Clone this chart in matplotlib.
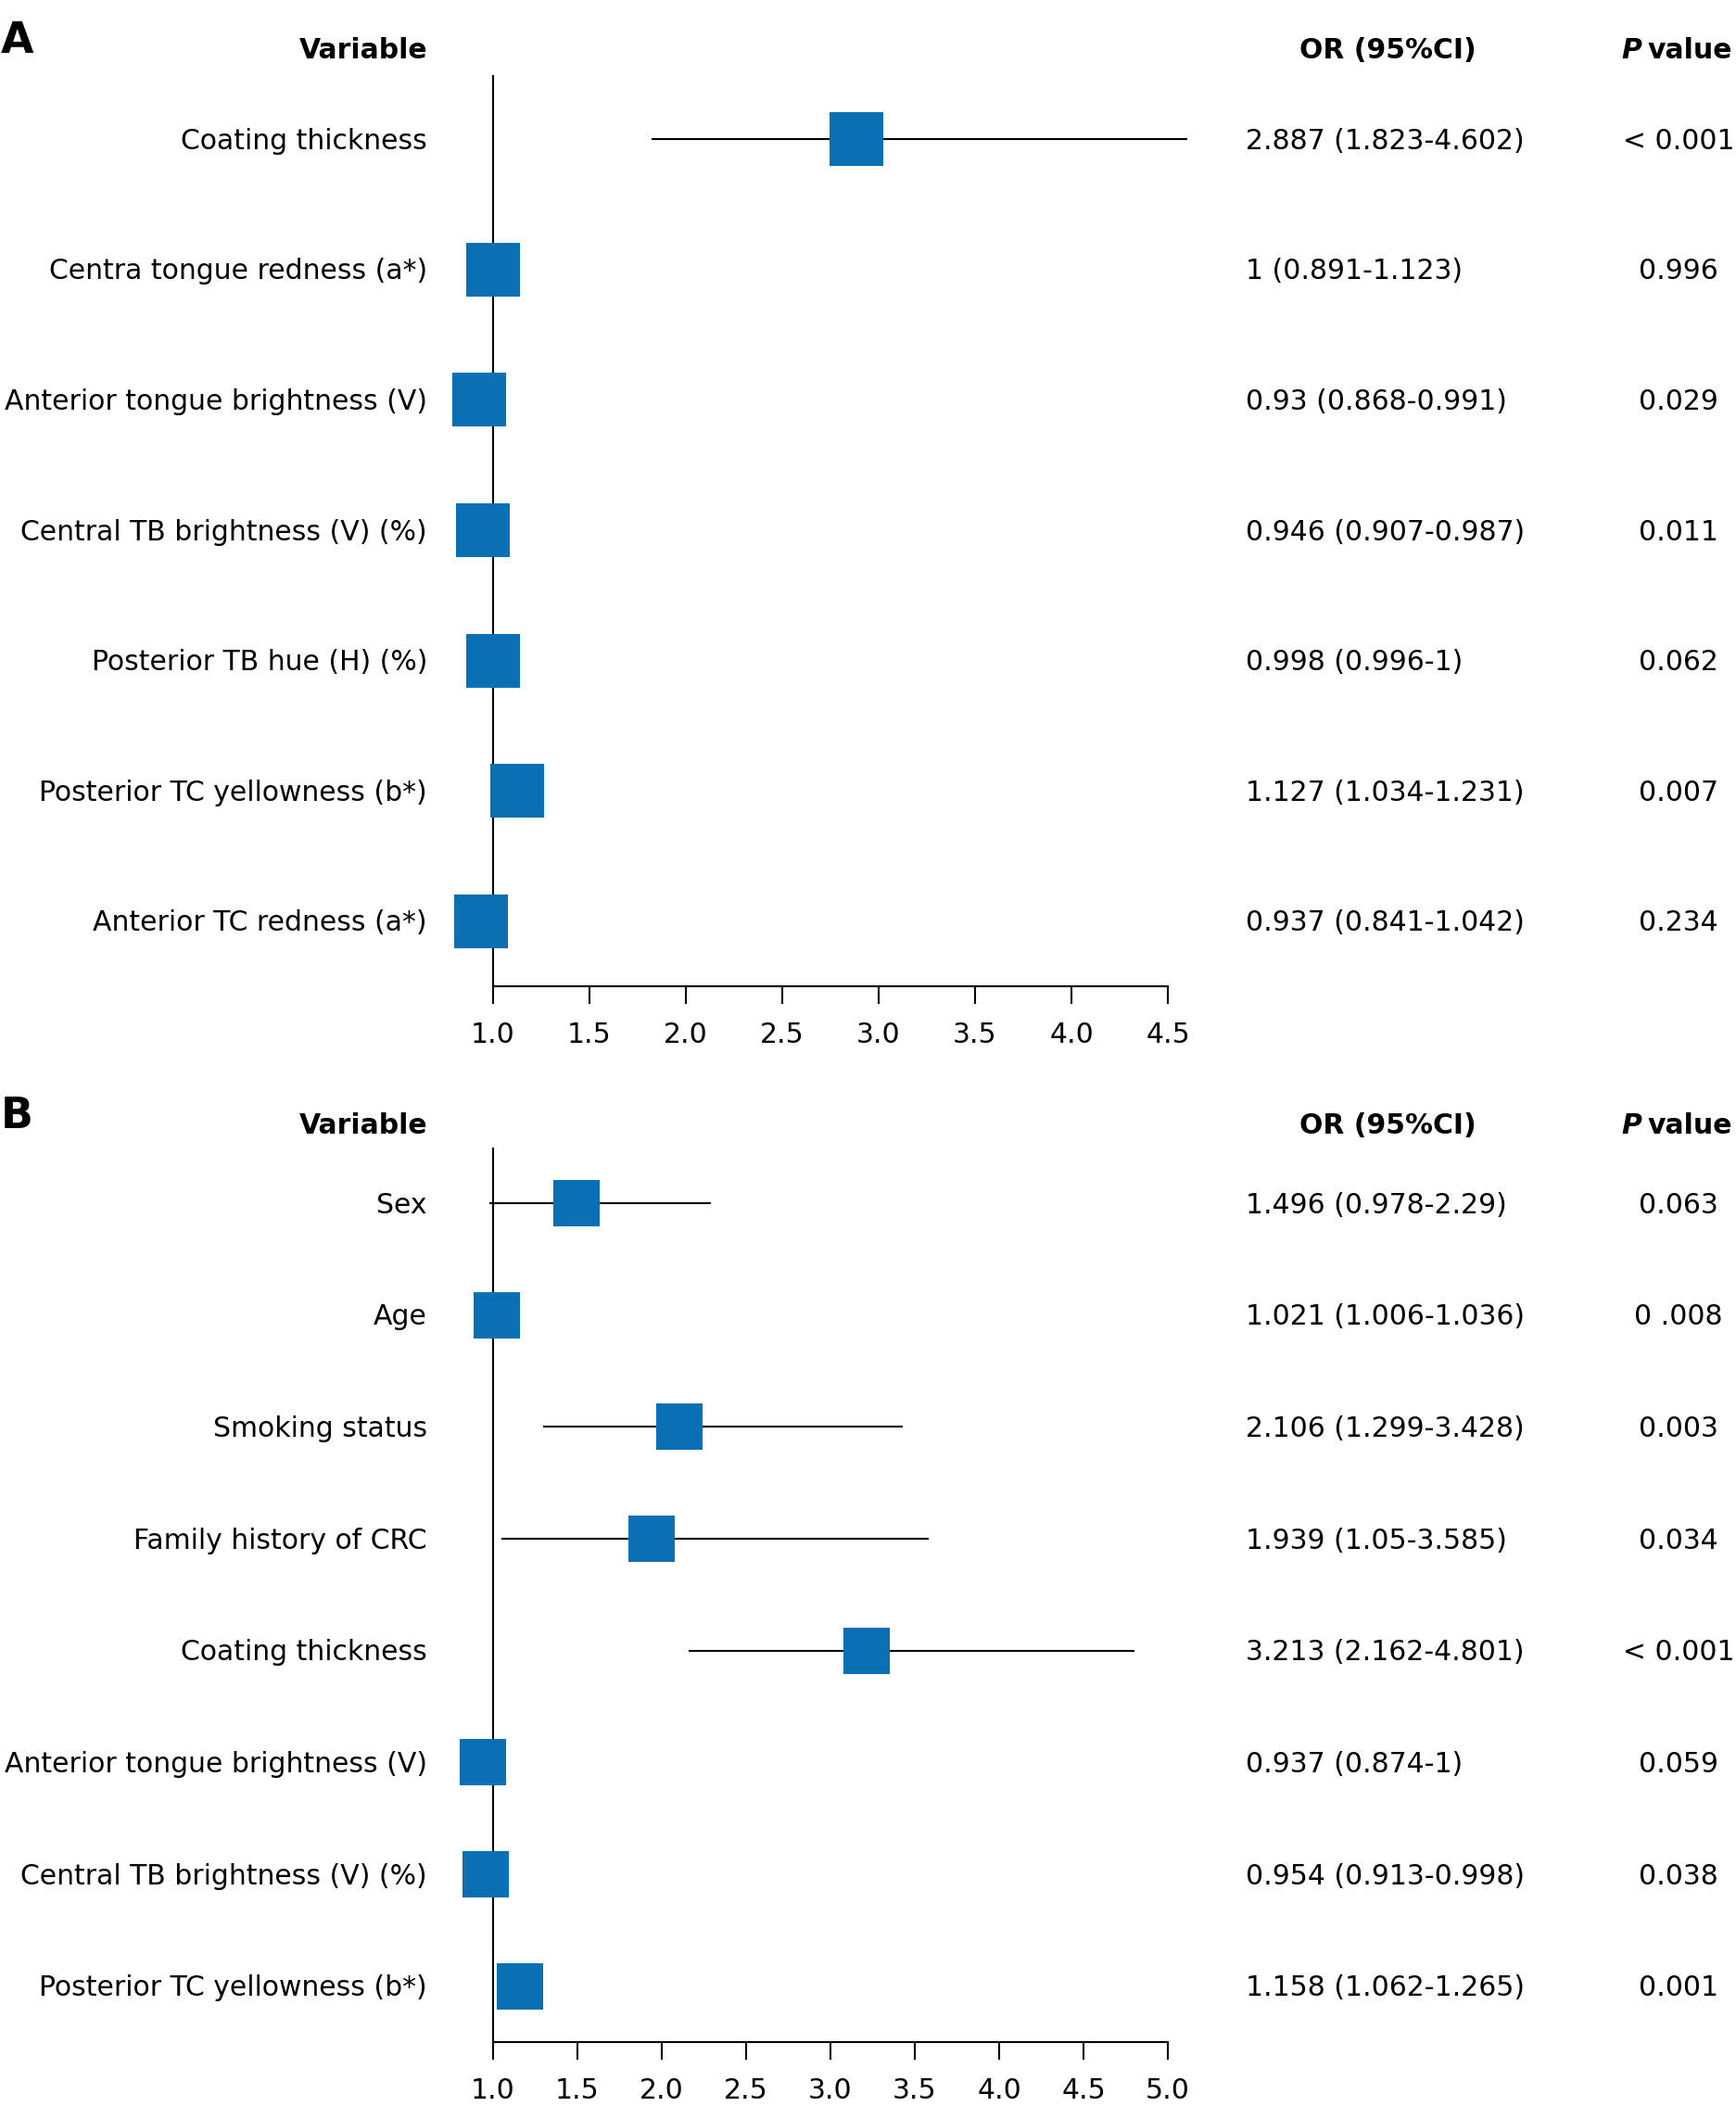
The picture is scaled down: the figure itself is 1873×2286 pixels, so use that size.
import matplotlib
matplotlib.use("Agg")
import matplotlib.pyplot as plt
from matplotlib.transforms import blended_transform_factory, offset_copy

# Panel A: univariate analysis
vars_a = ["Coating thickness", "Centra tongue redness (a*)", "Anterior tongue brightness (V)",
          "Central TB brightness (V) (%)", "Posterior TB hue (H) (%)",
          "Posterior TC yellowness (b*)", "Anterior TC redness (a*)"]
or_a = [2.887, 1.0, 0.93, 0.946, 0.998, 1.127, 0.937]
lo_a = [1.823, 0.891, 0.868, 0.907, 0.996, 1.034, 0.841]
hi_a = [4.602, 1.123, 0.991, 0.987, 1.0, 1.231, 1.042]
ci_text_a = ["2.887 (1.823-4.602)", "1 (0.891-1.123)", "0.93 (0.868-0.991)",
             "0.946 (0.907-0.987)", "0.998 (0.996-1)", "1.127 (1.034-1.231)",
             "0.937 (0.841-1.042)"]
p_a = ["< 0.001", "0.996", "0.029", "0.011", "0.062", "0.007", "0.234"]
ticks_a = [1.0, 1.5, 2.0, 2.5, 3.0, 3.5, 4.0, 4.5]

# Panel B: multivariate analysis
vars_b = ["Sex", "Age", "Smoking status", "Family history of CRC", "Coating thickness",
          "Anterior tongue brightness (V)", "Central TB brightness (V) (%)",
          "Posterior TC yellowness (b*)"]
or_b = [1.496, 1.021, 2.106, 1.939, 3.213, 0.937, 0.954, 1.158]
lo_b = [0.978, 1.006, 1.299, 1.05, 2.162, 0.874, 0.913, 1.062]
hi_b = [2.29, 1.036, 3.428, 3.585, 4.801, 1.0, 0.998, 1.265]
ci_text_b = ["1.496 (0.978-2.29)", "1.021 (1.006-1.036)", "2.106 (1.299-3.428)",
             "1.939 (1.05-3.585)", "3.213 (2.162-4.801)", "0.937 (0.874-1)",
             "0.954 (0.913-0.998)", "1.158 (1.062-1.265)"]
p_b = ["0.063", "0 .008", "0.003", "0.034", "< 0.001", "0.059", "0.038", "0.001"]
ticks_b = [1.0, 1.5, 2.0, 2.5, 3.0, 3.5, 4.0, 4.5, 5.0]

W, H = 1874, 2286
BLUE = "#0b6fb4"

plt.rcParams['font.family'] = ['DejaVu Sans']
plt.rcParams['font.size'] = 21.5


def fx(px):
    return px / W


def fy(py):
    return 1 - py / H


def draw_panel(fig, top, bottom, pad_top, pad_bot, letter, header_base,
               labels, ors, los, his, ci_text, pvals, ticks, ms):
    n = len(labels)
    ax = fig.add_axes([fx(532), fy(bottom), fx(1260) - fx(532), (bottom - top) / H])
    ax.set_xlim(ticks[0], ticks[-1])
    ax.set_ylim(n - 1 + pad_bot, -pad_top)

    rows = list(range(n))
    ax.hlines(rows, los, his, color="black", lw=1.5, zorder=2, clip_on=False)
    ax.plot(ors, rows, linestyle="none", marker="s", ms=ms, color=BLUE,
            markeredgewidth=0, zorder=3, clip_on=False)

    for s in ["top", "right"]:
        ax.spines[s].set_visible(False)
    ax.spines["left"].set_linewidth(1.5)
    ax.spines["bottom"].set_linewidth(1.5)
    ax.set_yticks([])
    ax.set_xticks(ticks)
    ax.set_xticklabels([f"{t:.1f}" for t in ticks])
    ax.tick_params(axis="x", length=13.7, width=1.5, pad=14)

    # baseline sits about 10 px under the row centre
    trans = blended_transform_factory(fig.transFigure, ax.transData)
    trans = offset_copy(trans, fig=fig, y=-10.5, units="dots")
    for i in rows:
        ax.text(fx(461), i, labels[i], ha="right", va="baseline", transform=trans)
        ax.text(fx(1344), i, ci_text[i], ha="left", va="baseline", transform=trans)
        ax.text(fx(1811), i, pvals[i], ha="center", va="baseline", transform=trans)

    # panel letter and column headers
    fig.text(fx(1), fy(header_base - 6), letter, fontsize=33, fontweight="bold",
             ha="left", va="baseline")
    fig.text(fx(461), fy(header_base), "Variable", fontweight="bold", ha="right", va="baseline")
    fig.text(fx(1497), fy(header_base), "OR (95%CI)", fontweight="bold", ha="center", va="baseline")
    fig.text(fx(1771), fy(header_base), "P", fontweight="bold", style="italic",
             ha="right", va="baseline")
    fig.text(fx(1778), fy(header_base), "value", fontweight="bold", ha="left", va="baseline")
    return ax


def main():
    fig = plt.figure(figsize=(W / 100, H / 100), dpi=100)

    draw_panel(fig, 82, 1064, 0.484, 0.498, "A", 63,
               vars_a, or_a, lo_a, hi_a, ci_text_a, p_a, ticks_a, ms=41.8)
    draw_panel(fig, 1239, 2203, 0.49, 0.5, "B", 1223,
               vars_b, or_b, lo_b, hi_b, ci_text_b, p_b, ticks_b, ms=35.3)

    fig.savefig("out.png", dpi=100, facecolor="white")


if __name__ == "__main__":
    main()
